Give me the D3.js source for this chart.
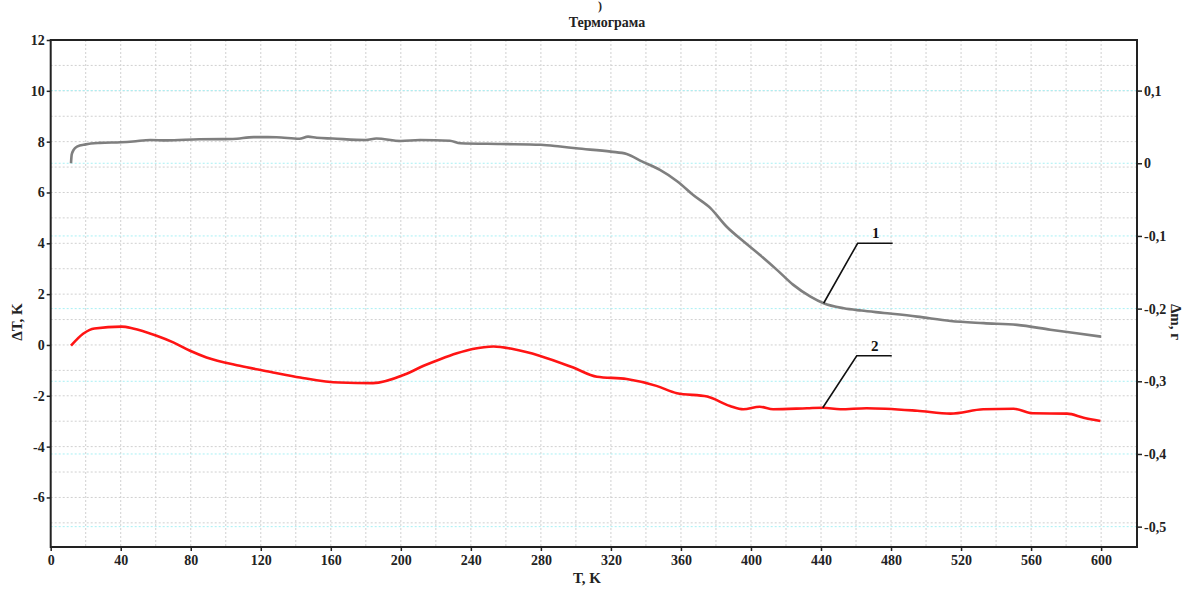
<!DOCTYPE html>
<html>
<head>
<meta charset="utf-8">
<script src="https://cdn.jsdelivr.net/npm/d3@7"></script>
<style>
  body { margin: 0; background: #fff; }
  svg { display: block; }
  svg text { font-family: "Liberation Serif", "Times New Roman", serif; font-weight: bold; }
</style>
</head>
<body>
<div id="vis"></div>
<script>
// curve 1: mass change, right axis (g)
const massT = [11.6, 12, 13, 15, 20, 28, 40, 47, 57, 66, 85, 104, 116, 129, 142, 147, 152, 161, 180, 186,
  200, 211, 228, 234, 257, 280, 291, 300, 320, 329, 338, 348, 358, 367, 377, 386, 396, 405, 415, 424,
  434, 441.5, 453, 463, 476, 495, 514, 533, 552, 571, 586, 600];
const massVal = [0.0, 0.012, 0.018, 0.023, 0.026, 0.028, 0.029, 0.030, 0.032, 0.0315, 0.033, 0.0334, 0.036, 0.0358, 0.0338, 0.0366, 0.035, 0.034, 0.032, 0.034,
  0.0307, 0.032, 0.031, 0.0275, 0.0265, 0.0255, 0.023, 0.0206, 0.016, 0.0128, 0.0022, -0.0092, -0.025, -0.0436, -0.062, -0.087, -0.108, -0.126, -0.147, -0.167,
  -0.1835, -0.1926, -0.1995, -0.2027, -0.206, -0.211, -0.217, -0.22, -0.2224, -0.229, -0.234, -0.2385];

// curve 2: temperature difference, left axis (K)
const dtT = [11.6, 18.5, 25, 40.5, 47, 60.5, 70, 79.6, 89, 108, 127, 142.5, 165, 184, 203, 213, 222.5, 232, 241, 253,
  264, 279.6, 298.5, 312, 329, 346, 357.7, 375, 388, 395.6, 405, 412.7, 432, 441, 451, 466, 495, 514, 532.7, 550,
  561, 580.6, 590, 599.6];
const dtVal = [-0.03, 0.44, 0.65, 0.72, 0.65, 0.36, 0.1, -0.23, -0.49, -0.82, -1.08, -1.28, -1.48, -1.5, -1.14, -0.82, -0.56, -0.33, -0.16, -0.06,
  -0.16, -0.43, -0.89, -1.25, -1.34, -1.61, -1.9, -2.03, -2.4, -2.53, -2.43, -2.53, -2.49, -2.47, -2.53, -2.49, -2.59, -2.7, -2.53, -2.51,
  -2.69, -2.7, -2.86, -2.99];

const xTicks = [0, 40, 80, 120, 160, 200, 240, 280, 320, 360, 400, 440, 480, 520, 560, 600];
const leftTicks = [12, 10, 8, 6, 4, 2, 0, -2, -4, -6];
const rightTicks = [0.1, 0, -0.1, -0.2, -0.3, -0.4, -0.5];
const labels = ["1", "2"];
const labelAtT = [441.5, 441];

const width = 1187, height = 590;
const mLeft = 50.7, mRight = 1137, mTop = 40, mBottom = 547;
const font = "'Liberation Serif', 'Times New Roman', serif";

const svg = d3.select("#vis").append("svg")
  .attr("width", width)
  .attr("height", height)
  .attr("font-family", font)
  .attr("font-weight", "bold");

const x = d3.scaleLinear().domain([0, 620.5]).range([mLeft, mRight]);
const yL = d3.scaleLinear().domain([-7.95, 12]).range([mBottom, mTop]);
const yR = d3.scaleLinear().domain([-0.528, 0.1696]).range([mBottom, mTop]);

// grid
const grid = svg.append("g").attr("fill", "none").attr("stroke-width", 1).attr("stroke-dasharray", "2,2");
grid.selectAll(".gx").data(d3.range(20, 620, 20)).join("line")
  .attr("x1", d => x(d)).attr("x2", d => x(d))
  .attr("y1", mTop).attr("y2", mBottom)
  .attr("stroke", "#d0d0d0");
grid.selectAll(".gy").data(d3.range(-7, 12, 1)).join("line")
  .attr("x1", mLeft).attr("x2", mRight)
  .attr("y1", d => yL(d)).attr("y2", d => yL(d))
  .attr("stroke", "#d0d0d0");
grid.selectAll(".gr").data(rightTicks).join("line")
  .attr("x1", mLeft).attr("x2", mRight)
  .attr("y1", d => yR(d)).attr("y2", d => yR(d))
  .attr("stroke", "#a8f0f4");

// frame
svg.append("rect")
  .attr("x", mLeft).attr("y", mTop)
  .attr("width", mRight - mLeft).attr("height", mBottom - mTop)
  .attr("fill", "none").attr("stroke", "#222").attr("stroke-width", 2);

// axes
const fmtR = d => d === 0 ? "0" : d3.format(".1f")(d).replace(".", ",").replace("−", "-");

const axB = svg.append("g").attr("transform", `translate(0,${mBottom})`)
  .call(d3.axisBottom(x).tickValues(xTicks).tickSize(4).tickPadding(4).tickFormat(d3.format("d")));
const axL = svg.append("g").attr("transform", `translate(${mLeft},0)`)
  .call(d3.axisLeft(yL).tickValues(leftTicks).tickSize(4).tickPadding(2)
    .tickFormat(d => String(d)));
const axR = svg.append("g").attr("transform", `translate(${mRight},0)`)
  .call(d3.axisRight(yR).tickValues(rightTicks).tickSize(5).tickPadding(2).tickFormat(fmtR));

[axB, axL, axR].forEach(a => {
  a.select(".domain").remove();
  a.selectAll("line").attr("stroke", "#222").attr("stroke-width", 1.5);
  a.selectAll("text")
    .attr("font-family", font)
    .attr("font-weight", "bold")
    .attr("font-size", 14)
    .attr("fill", "#222");
});

// curves
const massData = massT.map((t, i) => ({ t, v: massVal[i] }));
const dtData = dtT.map((t, i) => ({ t, v: dtVal[i] }));

svg.append("path")
  .datum(massData)
  .attr("fill", "none")
  .attr("stroke", "#7f7f7f")
  .attr("stroke-width", 2.6)
  .attr("stroke-linejoin", "round")
  .attr("d", d3.line().curve(d3.curveMonotoneX).x(d => x(d.t)).y(d => yR(d.v)));

svg.append("path")
  .datum(dtData)
  .attr("fill", "none")
  .attr("stroke", "#ff1414")
  .attr("stroke-width", 2.6)
  .attr("stroke-linejoin", "round")
  .attr("d", d3.line().curve(d3.curveMonotoneX).x(d => x(d.t)).y(d => yL(d.v)));

// leader labels
function valueAt(data, t) {
  const i = d3.bisector(d => d.t).left(data, t);
  const a = data[Math.max(0, i - 1)], b = data[Math.min(data.length - 1, i)];
  if (a.t === b.t) return a.v;
  return a.v + (b.v - a.v) * (t - a.t) / (b.t - a.t);
}
const anchors = [
  { label: labels[0], px: x(labelAtT[0]), py: yR(valueAt(massData, labelAtT[0])), rise: 60 },
  { label: labels[1], px: x(labelAtT[1]), py: yL(valueAt(dtData, labelAtT[1])), rise: 52 }
];
const lead = svg.append("g");
anchors.forEach(a => {
  const cx = a.px + 34, cy = a.py - a.rise;
  lead.append("polyline")
    .attr("points", `${a.px},${a.py} ${cx},${cy} ${cx + 35},${cy}`)
    .attr("fill", "none").attr("stroke", "#111").attr("stroke-width", 1.6);
  lead.append("text")
    .attr("x", cx + 18).attr("y", cy - 5)
    .attr("text-anchor", "middle")
    .attr("font-size", 15)
    .attr("fill", "#111")
    .text(a.label);
});

// titles
svg.append("text")
  .attr("x", 598).attr("y", 10)
  .attr("font-size", 12).attr("font-weight", "normal").attr("fill", "#222")
  .text(")");
svg.append("text")
  .attr("x", 607).attr("y", 27)
  .attr("text-anchor", "middle")
  .attr("font-size", 14).attr("fill", "#222")
  .text("Термограма");
svg.append("text")
  .attr("transform", `translate(22,322) rotate(-90)`)
  .attr("text-anchor", "middle")
  .attr("font-size", 15).attr("fill", "#222")
  .text("ΔT, K");
svg.append("text")
  .attr("transform", `translate(1171,322) rotate(90)`)
  .attr("text-anchor", "middle")
  .attr("font-size", 15).attr("fill", "#222")
  .text("Δm, г");
svg.append("text")
  .attr("x", 587).attr("y", 583)
  .attr("text-anchor", "middle")
  .attr("font-size", 15).attr("fill", "#222")
  .text("T, K");
</script>
</body>
</html>
